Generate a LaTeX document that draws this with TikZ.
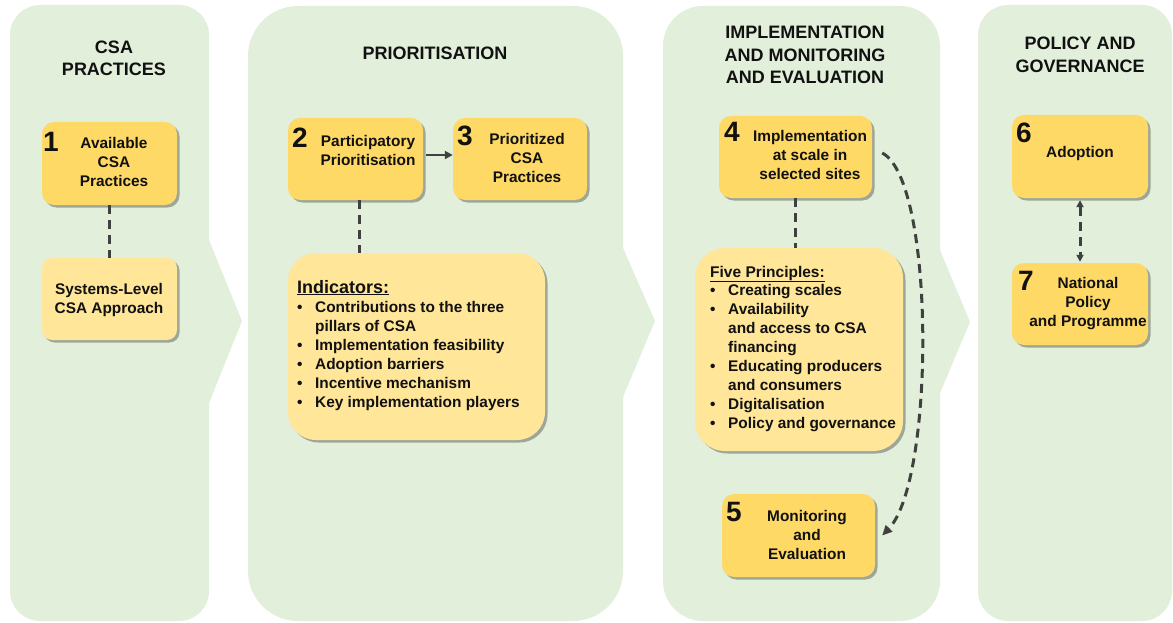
\documentclass[tikz,border=0pt]{standalone}
\usepackage{fontspec}
\setmainfont{Liberation Sans}
\usetikzlibrary{shadows,arrows.meta,calc}
\definecolor{panelg}{HTML}{E2EFDA}
\definecolor{boxd}{HTML}{FFD966}
\definecolor{boxl}{HTML}{FFE699}
\definecolor{lineg}{HTML}{404040}
\definecolor{txt}{HTML}{111111}
\tikzset{
 panel/.style={fill=panelg},
 boxbase/.style={draw=none, rounded corners=12pt, inner sep=0pt, drop shadow={shadow xshift=2.5pt, shadow yshift=-2.5pt, opacity=0.3, fill=black}},
 darkbox/.style={boxbase, fill=boxd},
 lightbox/.style={boxbase, fill=boxl},
 title/.style={font=\fontsize{18}{22.5}\selectfont\bfseries, text=txt, align=center, inner sep=0pt},
 boxtext/.style={font=\fontsize{15.4}{19}\selectfont\bfseries, text=txt, align=center, inner sep=0pt},
 num/.style={font=\fontsize{28}{28}\selectfont\bfseries, text=txt, inner sep=0pt},
 listtext/.style={font=\fontsize{15.4}{19}\selectfont\bfseries, text=txt, align=left, inner sep=0pt},
 dashconn/.style={draw=lineg, line width=3pt, dash pattern=on 9pt off 6pt},
 solidconn/.style={draw=lineg, line width=2.2pt, -{Triangle[length=8pt,width=8pt]}},
}
\newcommand{\bul}{\makebox[18pt][l]{\textbullet}}
\newcommand{\ind}{\hspace*{18pt}}
\begin{document}
\begin{tikzpicture}[x=1pt,y=-1pt]
\useasboundingbox (0,0) rectangle (1173,623);
\fill[white] (0,0) rectangle (1173,623);
% panels
\fill[panel, rounded corners=30pt] (10,5) rectangle (209,621);
\fill[panel] (205,240) -- (209,240) -- (242,321) -- (209,403) -- (205,403) -- cycle;
\fill[panel, rounded corners=50pt] (248,6) rectangle (623,621);
\fill[panel] (619,248) -- (623,248) -- (655,321) -- (623,397) -- (619,397) -- cycle;
\fill[panel, rounded corners=40pt] (663,6) rectangle (940,621);
\fill[panel] (936,250) -- (940,250) -- (970,322) -- (940,393) -- (936,393) -- cycle;
\fill[panel, rounded corners=30pt] (978,5) rectangle (1172,621);
% titles
\node[title] (t1) at (114,58.5) {CSA\\PRACTICES};
\node[title] (t2) at (435,53) {PRIORITISATION};
\node[title] (t3) at (805,55) {IMPLEMENTATION\\AND MONITORING\\AND EVALUATION};
\node[title] (t4) at (1080,55) {POLICY AND\\GOVERNANCE};
% boxes
\node[darkbox, minimum width=135pt, minimum height=83pt] (b1) at (109.5,163.5) {};
\node[lightbox, rounded corners=10pt, minimum width=135pt, minimum height=82pt] (sl) at (109.5,299) {};
\node[darkbox, minimum width=135pt, minimum height=82pt] (b2) at (355.5,159) {};
\node[darkbox, minimum width=134pt, minimum height=82pt] (b3) at (520,159) {};
\node[lightbox, rounded corners=28pt, minimum width=257pt, minimum height=187pt] (ind) at (416.5,346.5) {};
\node[darkbox, minimum width=153pt, minimum height=82pt] (b4) at (795.5,157) {};
\node[lightbox, rounded corners=30pt, minimum width=208pt, minimum height=203pt] (fp) at (799,349.5) {};
\node[darkbox, minimum width=153pt, minimum height=83pt] (b5) at (798.5,535.5) {};
\node[darkbox, minimum width=136pt, minimum height=83pt] (b6) at (1080,156.5) {};
\node[darkbox, minimum width=136pt, minimum height=82pt] (b7) at (1080,304) {};
% numbers
\node[num] (n1) at (51,142) {1};
\node[num] (n2) at (300,137.5) {2};
\node[num] (n3) at (465,135.5) {3};
\node[num] (n4) at (732,131.5) {4};
\node[num] (n5) at (734,512) {5};
\node[num] (n6) at (1024,133) {6};
\node[num] (n7) at (1026,281) {7};
% box texts
\node[boxtext] (l1) at (114,162) {Available\\CSA\\Practices};
\node[boxtext] (lsl) at (109,300) {Systems-Level\\CSA Approach};
\node[boxtext] (l2) at (368,150.5) {Participatory\\Prioritisation};
\node[boxtext] (l3) at (527,157.5) {Prioritized\\CSA\\Practices};
\node[boxtext] (l4) at (810,154.5) {Implementation\\at scale in\\selected sites};
\node[boxtext] (l5) at (807,534.5) {Monitoring\\and\\Evaluation};
\node[boxtext] (l6) at (1080,154) {Adoption};
\node[boxtext] (l7) at (1088,303.5) {National\\Policy\\and Programme};
% lists
\node[listtext, font=\fontsize{18}{19}\selectfont\bfseries, anchor=base west] (ih) at (297,293) {\underline{Indicators:}};
\node[listtext, anchor=north west] (il) at (297,301) {\bul Contributions to the three\\\ind pillars of CSA\\\bul Implementation feasibility\\\bul Adoption barriers\\\bul Incentive mechanism\\\bul Key implementation players};
\node[listtext, font=\fontsize{15.5}{19}\selectfont\bfseries, anchor=base west] (fh) at (710,277) {\underline{Five Principles:}};
\node[listtext, anchor=north west] (fl) at (710,284) {\bul Creating scales\\\bul Availability\\\ind and access to CSA\\\ind financing\\\bul Educating producers\\\ind and consumers\\\bul Digitalisation\\\bul Policy and governance};
% connectors
\draw[dashconn] (b1.south) -- (sl.north);
\draw[dashconn] ([xshift=3.5pt]b2.south) -- ([xshift=3.5pt]b2.south |- ind.north);
\draw[dashconn] (b4.south) -- (b4.south |- fp.north);
\draw[solidconn] ([xshift=3pt,yshift=4pt]b2.east) -- ([yshift=4pt]b2.east -| b3.west);
\draw[dashconn, {Triangle[length=7pt,width=7pt]}-{Triangle[length=7pt,width=7pt]}] ([yshift=-2pt]b6.south) -- ([yshift=1pt]b7.north);
\draw[dashconn, -{Triangle[length=10pt,width=9pt]}] ([xshift=10pt,yshift=4pt]b4.east) .. controls +(53,27) and +(53,-55) .. ([xshift=7pt]b5.east);
\end{tikzpicture}
\end{document}
